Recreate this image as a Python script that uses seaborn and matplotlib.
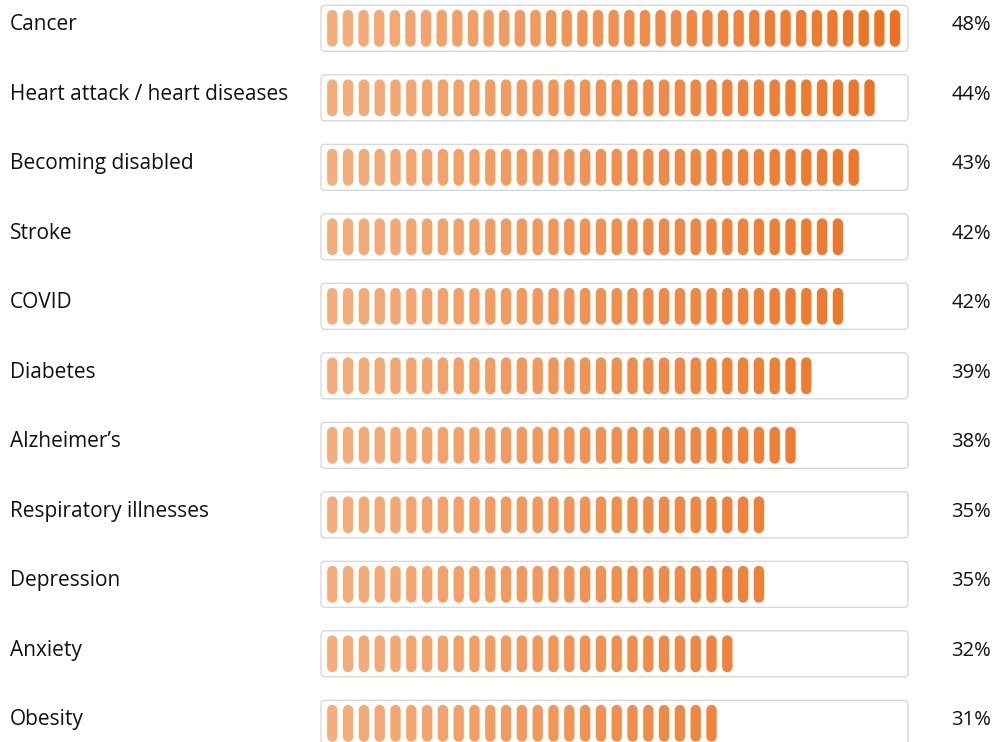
import numpy as np
import matplotlib
matplotlib.use("Agg")
import matplotlib.pyplot as plt
from matplotlib.patches import FancyBboxPatch
from matplotlib.transforms import blended_transform_factory
import seaborn as sns

# ---- data ----
categories = ["Cancer", "Heart attack / heart diseases", "Becoming disabled", "Stroke",
              "COVID", "Diabetes", "Alzheimer\u2019s", "Respiratory illnesses",
              "Depression", "Anxiety", "Obesity"]
values = [48, 44, 43, 42, 42, 39, 38, 35, 35, 32, 31]
value_labels = ["48%", "44%", "43%", "42%", "42%", "39%", "38%", "35%", "35%", "32%", "31%"]

# ---- style ----
sns.set_theme(style="white")
plt.rcParams['font.family'] = ['Open Sans', 'DejaVu Sans']

W, H, DPI = 998, 742, 100
fig = plt.figure(figsize=(W / DPI, H / DPI), dpi=DPI)
ax = fig.add_axes([0, 0, 1, 1])
ax.set_axis_off()

# scale: 1 percent-unit = px_per_unit pixels, row pitch in pixels
px_per_unit = 12.154
row_px = 69.5
x0_px = 327.3           # first pill left edge
y0_px = 28.3            # first row centre
ax.set_xlim(-x0_px / px_per_unit, (W - x0_px) / px_per_unit)
ax.set_ylim((H - y0_px) / row_px, -y0_px / row_px)

step = 1.3              # percent-units between pills
pill_w = 10 / px_per_unit
box_left, box_right = -6.3 / px_per_unit, 580.7 / px_per_unit
box_half = 23 / row_px
bar_max = 572.7 / px_per_unit   # rightmost usable end inside the box

cmap = sns.blend_palette(["#F5AE7C", "#EE7120"], as_cmap=True)

for i, v in enumerate(values):
    # outline box
    box = FancyBboxPatch((box_left, i - box_half), box_right - box_left, 2 * box_half,
                         boxstyle="round,pad=0,rounding_size=%f" % (4 / px_per_unit),
                         mutation_aspect=px_per_unit / row_px,
                         fc="white", ec="#D4D4D4", lw=0.9, zorder=1)
    ax.add_patch(box)
    # pill count from value
    n = int(round((v + 1.5) / step))
    s = step
    if (n - 1) * step + pill_w > bar_max:
        n -= 1
        s = (bar_max - pill_w) / (n - 1)
    xs = np.arange(n) * s + pill_w / 2
    cols = cmap(np.clip(xs / 47.0, 0, 1))
    half_len = 13.3 / row_px
    lc = ax.vlines(xs, i - half_len, i + half_len, colors=cols,
                   linewidth=10.3 * 72 / DPI, zorder=2)
    lc.set_capstyle("round")
    lc.set_snap(False)

trans = blended_transform_factory(ax.transAxes, ax.transData)
for i, (c, lab) in enumerate(zip(categories, value_labels)):
    ax.text(10 / W, i + 0.03, c, transform=trans, ha="left", va="baseline",
            fontsize=15, color="#111111")
    ax.text(991 / W, i + 0.03, lab, transform=trans, ha="right", va="baseline",
            fontsize=14.5, color="#111111")

fig.savefig("out.png", dpi=DPI)
